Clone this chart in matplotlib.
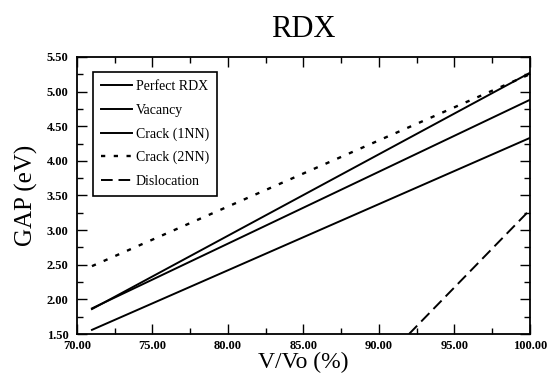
import matplotlib
matplotlib.use("Agg")
import matplotlib.pyplot as plt
from matplotlib.ticker import MultipleLocator, FormatStrFormatter

# V/Vo (%) and band gap (eV) for each structure
perfect_x = [71.0, 100.0]
perfect_gap = [1.86, 5.27]
vacancy_x = [71.0, 100.0]
vacancy_gap = [1.87, 4.88]
crack1_x = [71.0, 100.0]
crack1_gap = [1.56, 4.33]
crack2_x = [71.0, 100.0]
crack2_gap = [2.48, 5.25]
disloc_x = [92.0, 100.0]
disloc_gap = [1.50, 3.29]

plt.rcParams["font.family"] = ["Liberation Serif", "DejaVu Serif"]

fig = plt.figure(figsize=(5.49, 3.77), dpi=100)
ax = fig.add_axes([0.140, 0.114, 0.825, 0.735])

lw = 1.4
ax.plot(perfect_x, perfect_gap, color="black", lw=lw, label="Perfect RDX")
ax.plot(vacancy_x, vacancy_gap, color="black", lw=lw, label="Vacancy")
ax.plot(crack1_x, crack1_gap, color="black", lw=lw, label="Crack (1NN)")
ax.plot(crack2_x, crack2_gap, color="black", lw=1.7, dashes=(1.8, 3.6),
        label="Crack (2NN)")
ax.plot(disloc_x, disloc_gap, color="black", lw=lw, dashes=(6, 3),
        label="Dislocation")

ax.set_xlim(70, 100)
ax.set_ylim(1.5, 5.5)
ax.xaxis.set_major_locator(MultipleLocator(5))
ax.xaxis.set_minor_locator(MultipleLocator(2.5))
ax.yaxis.set_major_locator(MultipleLocator(0.5))
ax.yaxis.set_minor_locator(MultipleLocator(0.25))
ax.xaxis.set_major_formatter(FormatStrFormatter("%.2f"))
ax.yaxis.set_major_formatter(FormatStrFormatter("%.2f"))
ax.tick_params(which="both", direction="in", top=True, right=True, width=1.0)
ax.tick_params(which="major", length=7, labelsize=9)
ax.tick_params(which="minor", length=4)
ax.tick_params(axis="x", pad=4)
ax.tick_params(axis="y", pad=6)
for lbl in ax.get_xticklabels() + ax.get_yticklabels():
    lbl.set_fontweight("bold")
# lift the bottom y label a touch so it clears "70.00", as in the original
ax.get_yticklabels()[0].set_verticalalignment("bottom")
for spine in ax.spines.values():
    spine.set_linewidth(1.3)

ax.set_xlabel("V/Vo (%)", fontsize=17, labelpad=0.5)
ax.set_ylabel("GAP (eV)", fontsize=18, labelpad=6)
ax.set_title("RDX", fontsize=22, pad=14)

leg = ax.legend(loc="upper left", bbox_to_anchor=(0.035, 0.946), borderaxespad=0,
                fontsize=10, frameon=True, fancybox=False, labelspacing=0.75,
                handlelength=2.2, handletextpad=0.3, borderpad=0.6)
leg.get_frame().set_edgecolor("black")
leg.get_frame().set_linewidth(1.2)
leg.get_frame().set_alpha(1)

fig.savefig("out.png", dpi=100)
